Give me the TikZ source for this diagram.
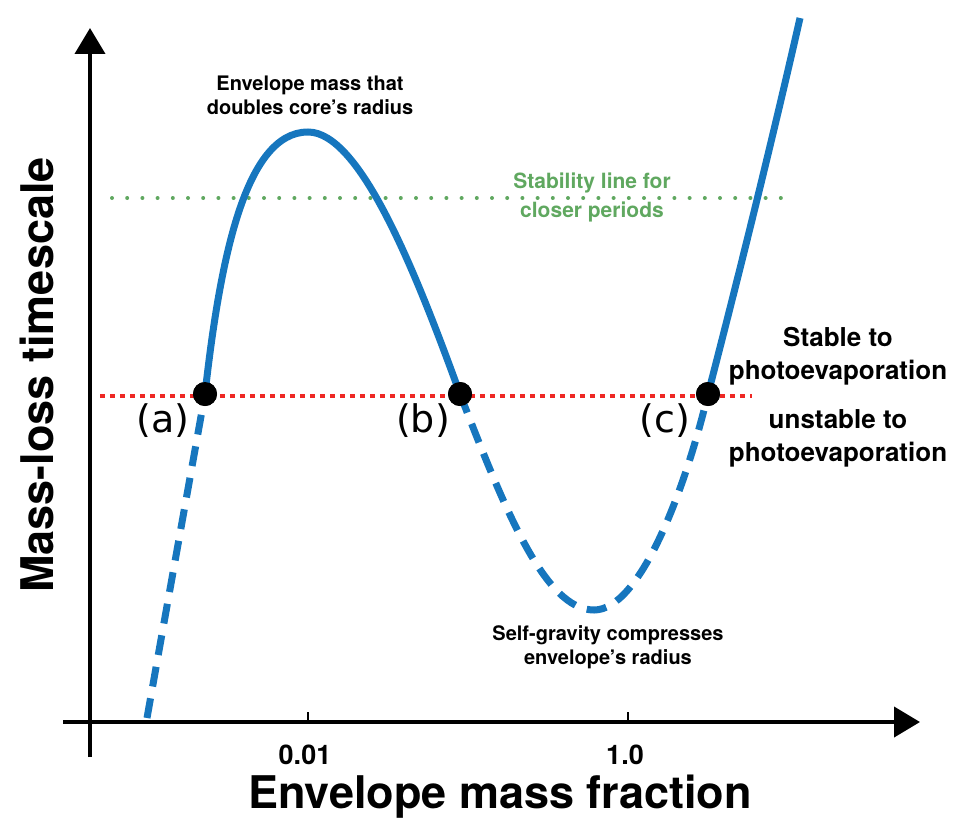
\documentclass[tikz,border=0pt]{standalone}
\usepackage{fontspec}
\setmainfont{TeX Gyre Heros}
\newfontfamily\pointfont{DejaVu Sans}
\usetikzlibrary{arrows.meta,positioning}
\definecolor{curveblue}{RGB}{22,118,190}
\definecolor{stabred}{RGB}{238,40,36}
\definecolor{stabgreen}{RGB}{96,168,96}

\begin{document}
\begin{tikzpicture}[x=1pt,y=-1pt,
          axis/.style={line width=4pt, -{Triangle[length=26pt,width=30pt]}},
          track/.style={line width=7pt, curveblue},
          unsolid/.style={track, dash pattern=on 20pt off 12pt},
          crossing/.style={circle, fill=black, inner sep=0pt, minimum size=24pt},
          note/.style={font=\bfseries\fontsize{20}{24}\selectfont, align=center},
          side/.style={font=\bfseries\fontsize{26}{33}\selectfont, align=center},
          pointlabel/.style={font=\pointfont\fontsize{38}{38}\selectfont},
          ]

          \useasboundingbox (0,0) rectangle (968,824);

          % axes
          \coordinate (origin) at (90,722);
          \draw[axis] (90,757) -- (90,28);
          \draw[axis] (63,722) -- (920,722);
          \draw[line width=1.5pt] (308,712) -- (308,722);
          \draw[line width=1.5pt] (628,712) -- (628,722);
          \node[font=\bfseries\fontsize{27}{27}\selectfont] (tick1) at (305,755) {0.01};
          \node[font=\bfseries\fontsize{27}{27}\selectfont] (tick2) at (625,755) {1.0};
          \node[font=\bfseries\fontsize{45}{45}\selectfont] (xlabel) at (500,797) {Envelope mass fraction};
          \node[font=\bfseries\fontsize{45}{45}\selectfont, rotate=90] (ylabel) at (37,375) {Mass-loss timescale};

          % stability lines
          \draw[stabgreen, line width=4pt, line cap=round, dash pattern=on 0pt off 15.2pt] (112,198) -- (790,198);
          \draw[stabred, line width=4pt, dash pattern=on 5pt off 5pt] (100,396) -- (752,396);

          % the curve
          \coordinate (start) at (147,718);
          \coordinate (peak) at (308,132);
          \coordinate (trough) at (594,610);
          \coordinate (finish) at (800,18);
          \node[crossing] (pa) at (205,394) {};
          \node[crossing] (pb) at (460,394) {};
          \node[crossing] (pc) at (708,394) {};

          \draw[unsolid] (start) .. controls (168,600) and (195,450) .. (pa.center);
          \draw[track] (pa.center) .. controls (220,260) and (245,132) .. (peak)
                       .. controls (360,132) and (415,270) .. (pb.center);
          \draw[unsolid] (pb.center) .. controls (505,510) and (545,610) .. (trough)
                       .. controls (640,610) and (685,490) .. (pc.center);
          \draw[track] (pc.center) .. controls (735,290) and (770,150) .. (finish);
          \node[crossing] at (pa) {};
          \node[crossing] at (pb) {};
          \node[crossing] at (pc) {};

          % labels
          \node[pointlabel] (la) at (163,421) {(a)};
          \node[pointlabel] (lb) at (423,421) {(b)};
          \node[pointlabel] (lc) at (665,421) {(c)};
          \node[note] (peaknote) at (310,95) {Envelope mass that\\doubles core’s radius};
          \node[note] (troughnote) at (608,647) {Self-gravity compresses\\envelope’s radius};
          \node[note, stabgreen, font=\bfseries\fontsize{21}{29}\selectfont] (greennote) at (592,197) {Stability line for\\closer periods};
          \node[side] (stable) at (838,356) {Stable to\\photoevaporation};
          \node[side] (unstable) at (838,438) {unstable to\\photoevaporation};

        \end{tikzpicture}
\end{document}
